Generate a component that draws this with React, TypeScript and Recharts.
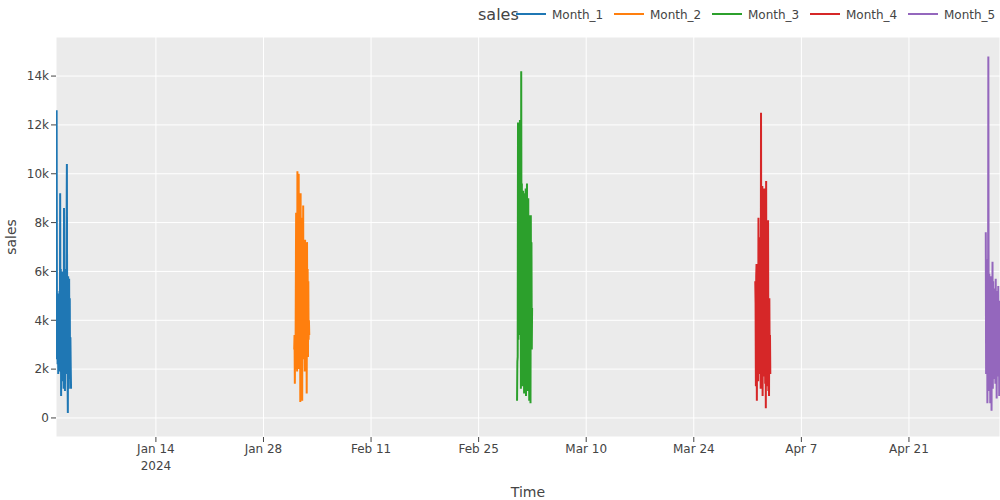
import React from 'react';
import { LineChart, Line, XAxis, YAxis, CartesianGrid } from 'recharts';

const seriesNames = ['Month_1', 'Month_2', 'Month_3', 'Month_4', 'Month_5'];
const seriesColors = ['#1f77b4', '#ff7f0e', '#2ca02c', '#d62728', '#9467bd'];
const monthStarts = ['2024-01-01', '2024-02-01', '2024-03-01', '2024-04-01', '2024-05-01'];

const month1Sales = [2400, 4100, 12600, 3100, 4800, 2200, 5100, 1800, 3600, 4400, 2000, 5200, 1900, 9200, 2700, 6100, 900, 5400, 2300, 6000, 1500, 4700, 3200, 5800, 1200, 8600, 2600, 4300, 1100, 6100, 2900, 5200, 1800, 7500, 10400, 3100, 2000, 200, 5800, 4200, 1200, 5700, 2200, 4900, 1600, 3300, 2100, 1200];
const month2Sales = [2800, 3400, 1400, 3300, 2000, 5200, 8400, 2100, 6600, 1900, 10100, 2400, 9800, 3100, 10000, 2000, 7800, 2600, 9000, 650, 9200, 3300, 6400, 2200, 8200, 700, 7900, 3000, 8700, 2400, 6200, 4300, 5800, 1900, 7300, 3600, 6800, 2800, 5400, 1000, 7200, 3000, 6100, 2500, 5600, 3200, 4000, 3400];
const month3Sales = [700, 2300, 2500, 12100, 3200, 9800, 4100, 8900, 3400, 12200, 5200, 9100, 1200, 14200, 4800, 9600, 3600, 8800, 1300, 9300, 4500, 7700, 1000, 9200, 3900, 8600, 2400, 9400, 900, 7800, 4200, 9600, 2600, 8100, 1100, 9000, 3500, 7600, 700, 8300, 2900, 6900, 600, 8300, 3300, 7200, 2800, 4500];
const month4Sales = [5600, 4700, 1300, 5800, 6300, 700, 4500, 2900, 6200, 1500, 8200, 2300, 6600, 1800, 7400, 3000, 5500, 1200, 12500, 2600, 6200, 1600, 9500, 900, 7200, 2400, 5800, 1700, 9400, 3100, 6100, 1400, 7800, 400, 9700, 2200, 6300, 1300, 5200, 2800, 8100, 1100, 4300, 900, 4900, 2400, 3400, 1800];
const month5Sales = [7600, 1800, 6500, 2600, 6400, 600, 4400, 2900, 14800, 3100, 1100, 5900, 2200, 4300, 600, 5800, 3300, 5100, 300, 4700, 2400, 6400, 1200, 5600, 3700, 4200, 1600, 5300, 2500, 4900, 1400, 5700, 3000, 4100, 800, 5200, 2100, 4600, 1700, 5400, 2700, 3900, 900, 4800, 2300, 4400, 1500, 3200];

const xTickDates = ['2024-01-14', '2024-01-28', '2024-02-11', '2024-02-25', '2024-03-10', '2024-03-24', '2024-04-07', '2024-04-21'];
const xTickLabels = ['Jan 14', 'Jan 28', 'Feb 11', 'Feb 25', 'Mar 10', 'Mar 24', 'Apr 7', 'Apr 21'];
const yTicks = [0, 2000, 4000, 6000, 8000, 10000, 12000, 14000];

const HOUR = 3600000;
const toTs = (s: string) => Date.parse(s + 'T00:00:00Z');
const allSales = [month1Sales, month2Sales, month3Sales, month4Sales, month5Sales];
const seriesData = allSales.map((vals, k) =>
  vals.map((v, i) => ({ t: toTs(monthStarts[k]) + i * HOUR, sales: v }))
);
const xTicks = xTickDates.map(toTs);
const xDomain = [toTs('2024-01-01'), toTs('2024-01-01') + 122.85 * 24 * HOUR];

const FONT = '"DejaVu Sans", Verdana, sans-serif';
const TXT = '#444';

const XTick = (props: any) => {
  const { x, y, payload, index } = props;
  const idx = xTicks.indexOf(payload.value);
  const label = idx >= 0 ? xTickLabels[idx] : '';
  return (
    <g transform={`translate(${x},${y})`}>
      <text textAnchor="middle" fill={TXT} fontSize={12} fontFamily={FONT}>
        <tspan x={0} dy="0.71em">{label}</tspan>
        {index === 0 && <tspan x={0} dy={17}>2024</tspan>}
      </text>
    </g>
  );
};

export default function App() {
  return (
    <div style={{ position: 'absolute', left: 0, top: 0, width: 1000, height: 500, background: '#fff', overflow: 'hidden' }}>
      <LineChart width={1000} height={500} margin={{ top: 37, right: 0, left: 0, bottom: 0 }}>
        <CartesianGrid fill="#ebebeb" stroke="#ffffff" strokeWidth={1} />
        <XAxis
          type="number"
          dataKey="t"
          domain={xDomain}
          ticks={xTicks}
          allowDataOverflow
          height={63}
          axisLine={false}
          tickLine={{ stroke: TXT }}
          tickSize={5}
          tickMargin={2}
          tick={<XTick />}
          interval={0}
        />
        <YAxis
          type="number"
          dataKey="sales"
          domain={[-780, 15600]}
          ticks={yTicks}
          allowDataOverflow
          width={56}
          axisLine={false}
          tickLine={{ stroke: TXT }}
          tickSize={5}
          tickMargin={2}
          interval={0}
          tick={{ fill: TXT, fontSize: 12, fontFamily: FONT }}
          tickFormatter={(v: number) => (v === 0 ? '0' : `${v / 1000}k`)}
        />
        {seriesData.map((d, k) => (
          <Line
            key={seriesNames[k]}
            data={d}
            dataKey="sales"
            name={seriesNames[k]}
            stroke={seriesColors[k]}
            strokeWidth={2}
            dot={false}
            activeDot={false}
            isAnimationActive={false}
            type="linear"
          />
        ))}
      </LineChart>
      <svg width={1000} height={500} style={{ position: 'absolute', left: 0, top: 0, pointerEvents: 'none' }}>
        <text x={478} y={20} fill={TXT} fontSize={16} fontFamily={FONT}>sales</text>
        {seriesNames.map((n, i) => {
          const x0 = 516 + 98 * i;
          return (
            <g key={n}>
              <line x1={x0} y1={14} x2={x0 + 30} y2={14} stroke={seriesColors[i]} strokeWidth={2} />
              <text x={x0 + 36} y={19} fill={TXT} fontSize={12} fontFamily={FONT}>{n}</text>
            </g>
          );
        })}
        <text transform="translate(16,237) rotate(-90)" textAnchor="middle" fill={TXT} fontSize={14} fontFamily={FONT}>sales</text>
        <text x={528} y={497} textAnchor="middle" fill={TXT} fontSize={14} fontFamily={FONT}>Time</text>
      </svg>
    </div>
  );
}
